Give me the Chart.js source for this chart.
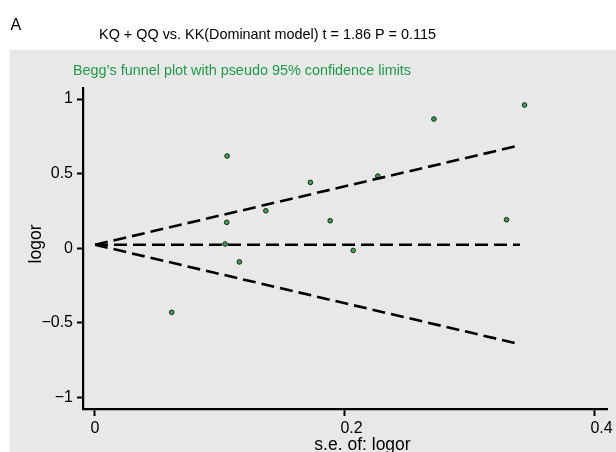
<!DOCTYPE html>
<html>
<head>
<meta charset="utf-8">
<script src="https://cdn.jsdelivr.net/npm/chart.js@4.4.1/dist/chart.umd.min.js"></script>
<style>
    html, body { margin: 0; padding: 0; background: #fff; }
    #wrap { width: 616px; height: 452px; position: relative; }
</style>
</head>
<body>
<div id="wrap"><canvas id="chart" width="616" height="452"></canvas></div>
<script>
// study points: standard error of logor vs logor
const seLogor = [0.3437, 0.2712, 0.1057, 0.1724, 0.2263, 0.1367, 0.1054, 0.1882, 0.3293, 0.1041, 0.1155, 0.2066, 0.0614];
const logor = [0.960, 0.866, 0.618, 0.441, 0.484, 0.251, 0.173, 0.184, 0.191, 0.028, -0.092, -0.015, -0.430];

// pooled estimate and pseudo 95% limits
const pooled = 0.023;
const seLimits = [0, 0.34];
const xTicks = [0, 0.2, 0.4];
const yTicks = [-1, -0.5, 0, 0.5, 1];

const FONT = "Liberation Sans, Arial, sans-serif";

const upper = seLimits.map(s => ({ x: s, y: pooled + 1.96 * s }));
const lower = seLimits.map(s => ({ x: s, y: pooled - 1.96 * s }));
const middle = seLimits.map(s => ({ x: s, y: pooled }));

const dashed = {
    type: "line",
    borderColor: "#000",
    borderWidth: 2.6,
    borderDash: [13, 6],
    pointRadius: 0,
    fill: false
};

// grey panel + texts around the plot
const decor = {
    id: "decor",
    beforeDraw(chart) {
        const ctx = chart.ctx;
        ctx.save();
        ctx.fillStyle = "#e8e8e8";
        ctx.fillRect(9.5, 50, 616 - 9.5, 452 - 50);
        ctx.restore();
    },
    afterDraw(chart) {
        const ctx = chart.ctx;
        ctx.save();
        ctx.fillStyle = "#000";
        ctx.textBaseline = "middle";
        ctx.textAlign = "left";
        ctx.font = "16px " + FONT;
        ctx.fillText("A", 10.5, 26);
        ctx.textAlign = "center";
        ctx.font = "14.4px " + FONT;
        ctx.fillText("KQ + QQ vs. KK(Dominant model) t = 1.86 P = 0.115", 267.5, 35.5);
        ctx.fillStyle = "#1e9a48";
        ctx.fillText("Begg\u2019s funnel plot with pseudo 95% confidence limits", 242, 71);
        ctx.fillStyle = "#000";
        ctx.font = "17.5px " + FONT;
        ctx.fillText("s.e. of: logor", 362.5, 445);
        ctx.translate(36.5, 244);
        ctx.rotate(-Math.PI / 2);
        ctx.fillText("logor", 0, 0);
        ctx.restore();
    }
};

new Chart(document.getElementById("chart"), {
    type: "scatter",
    data: {
        datasets: [
            { ...dashed, data: upper },
            { ...dashed, data: middle },
            { ...dashed, data: lower },
            {
                type: "scatter",
                data: seLogor.map((s, i) => ({ x: s, y: logor[i] })),
                pointRadius: 2.3,
                pointBorderWidth: 1,
                backgroundColor: "#2fae4a",
                borderColor: "#1a1a1a"
            }
        ]
    },
    options: {
        responsive: false,
        animation: false,
        layout: { padding: { top: 88, right: 9, left: 0, bottom: 0 } },
        plugins: {
            legend: { display: false },
            tooltip: { enabled: false }
        },
        scales: {
            x: {
                type: "linear",
                min: -0.0096,
                max: 0.4097,
                afterBuildTicks: scale => { scale.ticks = xTicks.map(v => ({ value: v })); },
                afterFit: scale => {
                    scale.height = 43;
                    scale.paddingLeft = 0;
                    scale.paddingRight = 0;
                },
                border: { display: true, color: "#000", width: 2.2 },
                grid: { drawOnChartArea: false, tickLength: 7, tickWidth: 2, tickColor: "#000" },
                ticks: {
                    color: "#000",
                    font: { family: FONT, size: 16 },
                    padding: 3,
                    align: "start",
                    labelOffset: -4.5,
                    callback: v => String(v)
                }
            },
            y: {
                type: "linear",
                min: -1.078,
                max: 1.074,
                afterBuildTicks: scale => { scale.ticks = yTicks.map(v => ({ value: v })); },
                afterFit: scale => { scale.width = 83; },
                border: { display: true, color: "#000", width: 2.2 },
                grid: { drawOnChartArea: false, tickLength: 6, tickWidth: 2, tickColor: "#000" },
                ticks: {
                    color: "#000",
                    font: { family: FONT, size: 16 },
                    padding: 4,
                    callback: v => (v < 0 ? "\u2212" + String(-v) : String(v))
                }
            }
        }
    },
    plugins: [decor]
});
</script>
</body>
</html>
